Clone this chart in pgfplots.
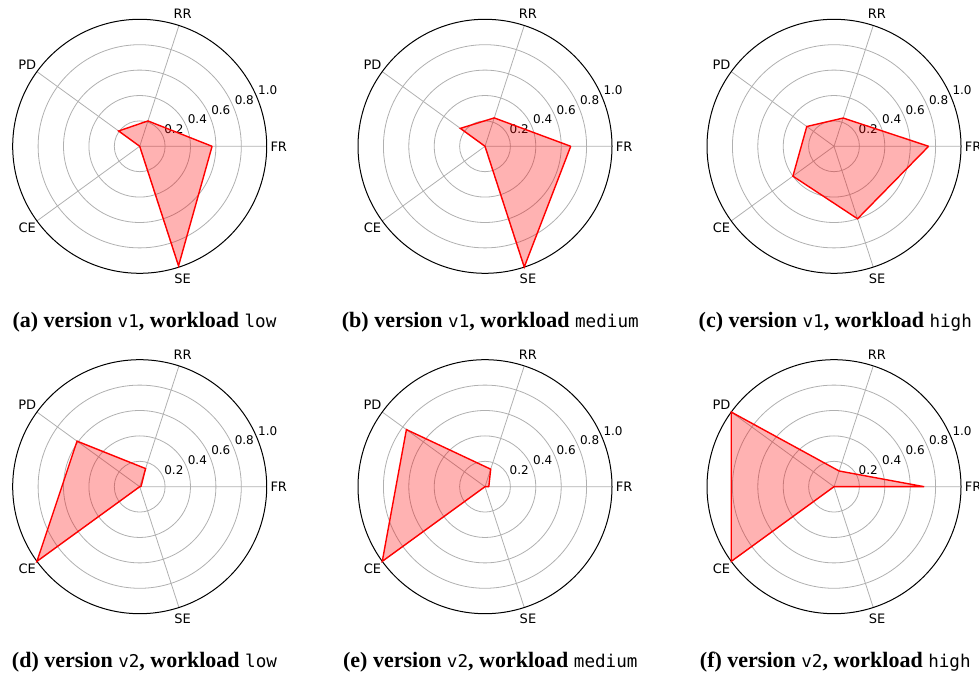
\documentclass[border=0pt]{standalone}
\usepackage{pgfplots}
\pgfplotsset{compat=1.18}
\usepgfplotslibrary{polar}
\usepackage{fontspec}
\setmainfont{DejaVu Sans}
\newfontfamily\capserif{Liberation Serif}
\newfontfamily\capmono{DejaVu Sans Mono}
\definecolor{gridgray}{HTML}{B0B0B0}
\definecolor{radred}{HTML}{FF0000}
\newcommand\chartfont{\fontsize{13}{15}\selectfont}
\newcommand\tickfont{\fontsize{12}{14}\selectfont}
\pgfplotsset{
  radar/.style={
    scale only axis, width=254pt, height=254pt, anchor=center,
    xmin=0, xmax=360, ymin=0, ymax=1,
    xtick={0,72,144,216,288}, xticklabels={},
    ytick={0.2,0.4,0.6,0.8}, yticklabels={},
    xmajorgrids, ymajorgrids,
    major grid style={draw=gridgray, line width=0.8pt},
    x axis line style={draw=black, line width=1pt},
    y axis line style={draw=none},
    major tick length=0pt,
    clip=false,
  },
  radarplot/.style={draw=radred, line width=1.4pt, fill=radred, fill opacity=0.3, line join=miter},
}
\newcommand\radarlabels{%
  \node[font=\chartfont, inner sep=0pt] at (axis cs:0,1.095) {FR};
  \node[font=\chartfont, inner sep=0pt] at (axis cs:72,1.095) {RR};
  \node[font=\chartfont, inner sep=0pt] at (axis cs:144,1.095) {PD};
  \node[font=\chartfont, inner sep=0pt] at (axis cs:216,1.095) {CE};
  \node[font=\chartfont, inner sep=0pt] at (axis cs:288,1.095) {SE};
  \node[font=\tickfont, inner sep=0pt, anchor=south west, xshift=1pt, yshift=2.5pt] at (axis cs:22.5,0.2) {0.2};
  \node[font=\tickfont, inner sep=0pt, anchor=south west, xshift=1pt, yshift=2.5pt] at (axis cs:22.5,0.4) {0.4};
  \node[font=\tickfont, inner sep=0pt, anchor=south west, xshift=1pt, yshift=2.5pt] at (axis cs:22.5,0.6) {0.6};
  \node[font=\tickfont, inner sep=0pt, anchor=south west, xshift=1pt, yshift=2.5pt] at (axis cs:22.5,0.8) {0.8};
  \node[font=\tickfont, inner sep=0pt, anchor=south west, xshift=1pt, yshift=2.5pt] at (axis cs:22.5,1.0) {1.0};
}
\newcommand\mycap[3]{{\capserif\fontsize{22}{26}\selectfont\bfseries (#1) version \capmono\mdseries\fontsize{17.6}{20}\selectfont #2\capserif\bfseries\fontsize{22}{26}\selectfont, workload \capmono\mdseries\fontsize{17.6}{20}\selectfont #3}}
\begin{document}
\begin{tikzpicture}
\useasboundingbox (0,0) rectangle (979pt,679pt);
\clip (0,0) rectangle (979pt,679pt);
% (a)
\begin{polaraxis}[radar, at={(139.7pt,532.7pt)}]
\radarlabels
\addplot[radarplot] coordinates {(0,0.57) (72,0.21) (144,0.205) (216,0.0) (288,0.99) (360,0.57)};
\end{polaraxis}
% (b)
\begin{polaraxis}[radar, at={(485.0pt,532.7pt)}]
\radarlabels
\addplot[radarplot] coordinates {(0,0.675) (72,0.235) (144,0.24) (216,0.0) (288,1.0) (360,0.675)};
\end{polaraxis}
% (c)
\begin{polaraxis}[radar, at={(834.0pt,532.7pt)}]
\radarlabels
\addplot[radarplot] coordinates {(0,0.745) (72,0.234) (144,0.265) (216,0.40) (288,0.60) (360,0.745)};
\end{polaraxis}
% (d)
\begin{polaraxis}[radar, at={(139.7pt,192.3pt)}]
\radarlabels
\addplot[radarplot] coordinates {(0,0.01) (72,0.15) (144,0.61) (216,1.0) (288,0.0) (360,0.01)};
\end{polaraxis}
% (e)
\begin{polaraxis}[radar, at={(485.0pt,192.3pt)}]
\radarlabels
\addplot[radarplot] coordinates {(0,0.03) (72,0.145) (144,0.765) (216,1.0) (288,0.0) (360,0.03)};
\end{polaraxis}
% (f)
\begin{polaraxis}[radar, at={(834.0pt,192.3pt)}]
\radarlabels
\addplot[radarplot] coordinates {(0,0.71) (72,0.13) (144,1.0) (216,1.0) (288,0.0) (360,0.71)};
\end{polaraxis}
% captions
\node[anchor=base, inner sep=0pt] at (144.5pt,351.3pt) {\mycap{a}{v1}{low}};
\node[anchor=base, inner sep=0pt] at (490.3pt,351.3pt) {\mycap{b}{v1}{medium}};
\node[anchor=base, inner sep=0pt] at (835.3pt,351.3pt) {\mycap{c}{v1}{high}};
\node[anchor=base, inner sep=0pt] at (144.5pt,11.3pt) {\mycap{d}{v2}{low}};
\node[anchor=base, inner sep=0pt] at (490.3pt,11.3pt) {\mycap{e}{v2}{medium}};
\node[anchor=base, inner sep=0pt] at (835.3pt,11.3pt) {\mycap{f}{v2}{high}};
\end{tikzpicture}
\end{document}
